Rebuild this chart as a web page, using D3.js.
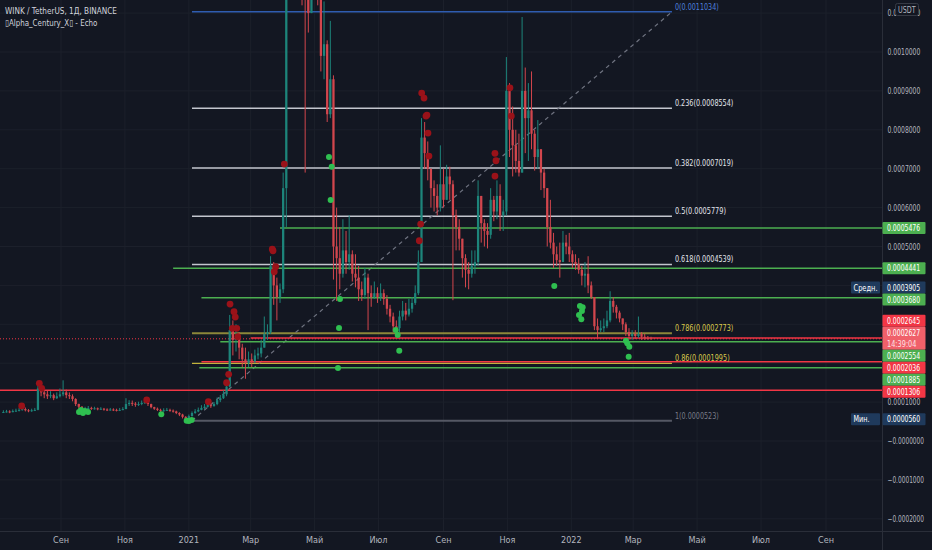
<!DOCTYPE html>
<html>
<head>
<meta charset="utf-8">
<script src="https://cdn.jsdelivr.net/npm/d3@7"></script>
<style>
  html, body { margin: 0; padding: 0; background: #131722; overflow: hidden; }
  svg { display: block; }
  text { font-family: 'Liberation Sans Narrow', 'DejaVu Sans Condensed', 'Arial Narrow', sans-serif; font-stretch: condensed; }
</style>
</head>
<body>
<svg id="chart" width="932" height="550"></svg>
<script>
'use strict'

// all prices are in 1e-7 USDT (2627 -> 0.0002627)
const startDate = new Date(2020, 6, 7)   // first candle
const candleDays = 3
const firstOpen = 730

const closes = [
  745,760,740,770,780,800,820,790,770,790,800,1350,
  1250,1200,1150,1180,1100,1150,1200,1250,1180,1150,1080,950,
  880,820,830,850,830,840,820,830,810,800,810,800,
  790,800,820,950,980,960,930,950,980,1000,950,870,
  830,800,780,790,800,780,760,720,680,620,560,640,
  720,760,800,850,880,920,900,950,1050,1100,1200,1400,
  2850,2600,2700,2400,2100,2000,2100,2050,2200,2250,2400,2750,
  2800,4500,4000,3700,3900,6500,12500,18000,16000,17000,15000,13000,
  12500,11000,13500,13000,11500,9900,10200,8400,9300,5000,4700,4300,
  4900,4600,4800,4300,4200,3900,3750,4200,3800,3700,3800,3700,
  3800,3650,3400,3200,2950,2900,3200,3350,3250,3400,3550,3800,
  4600,7800,7400,7000,6500,6300,6000,6600,6200,6800,6600,5800,
  5500,5200,4700,4400,4300,4500,4600,6300,5600,5400,5300,6200,
  5900,6300,5800,5900,9000,8000,7600,7200,6900,9000,8300,8500,
  7900,7300,7500,6900,6500,5500,5100,4800,4650,4600,5100,5000,
  4800,4600,4550,4400,4250,4300,4000,3700,2950,2850,2900,2950,
  3100,3600,3450,3300,3150,3000,2800,2700,2750,2700,2750,2680,
  2650,2640,2627
]
const highs = [
  790,800,790,810,830,850,900,860,820,830,850,1450,
  1420,1350,1300,1280,1220,1250,1350,1560,1320,1250,1200,1100,
  960,900,880,900,880,880,860,870,850,840,850,840,
  830,850,870,1100,1050,1040,1000,1010,1040,1060,1040,960,
  880,860,830,840,850,830,810,780,740,700,640,680,
  760,820,860,920,950,990,980,1000,1120,1180,1300,1450,
  3240,3100,3000,2800,2500,2400,2300,2250,2350,2400,2600,3200,
  3000,4750,4600,4200,4050,6900,15000,25000,19000,19000,17500,15000,
  14000,13000,15000,14500,13500,12000,11300,10300,10800,9400,6000,5500,
  5700,5400,5800,4900,4800,4500,4100,4450,4300,4000,4100,3950,
  4050,3900,3750,3500,3300,3100,3350,3600,3550,3650,3700,4000,
  4900,8300,8200,7700,7000,6700,6600,7600,7000,7100,7050,6700,
  5950,5700,5000,4800,4600,4900,4900,6700,5900,5700,5600,6500,
  6300,6700,6600,6200,9870,9200,8600,8000,7900,10900,9600,9200,
  9500,8000,8250,7400,7000,6450,6200,5350,5000,5100,5400,5300,
  5350,4900,4800,4700,4500,4600,4750,4100,3700,3150,3100,3150,
  3350,3850,3700,3500,3350,3150,3050,2900,2850,2850,3200,2800,
  2750,2700,2680
]
const lows = [
  720,730,715,740,750,760,780,760,740,750,770,790,
  1150,1100,1080,1100,1050,1080,1120,1150,1100,1080,1020,900,
  830,780,790,800,800,810,790,800,780,770,780,770,
  760,770,790,820,900,900,880,900,920,950,900,840,
  800,770,740,750,770,750,730,690,640,580,523,540,
  630,700,740,790,820,860,850,880,920,1000,1080,1150,
  1380,2200,2300,2100,1900,1600,1900,1900,2000,2100,2150,2500,
  2600,2750,3500,3100,3550,3800,5500,12000,13000,14000,12500,11200,
  6900,10500,11000,11800,11200,9500,9300,8200,8300,4150,3600,3900,
  4200,4300,4400,4100,3950,3600,3600,3650,2850,3450,3650,3550,
  3600,3500,3250,3050,2800,2730,2800,3100,3100,3200,3300,3500,
  3750,4600,7000,6700,6000,5900,5800,5900,6000,6300,6200,3620,
  4900,4900,4200,3950,3900,4200,4300,4500,5100,5000,4950,5200,
  5650,5700,5400,5400,5800,7300,6800,6900,6800,6900,7400,7200,
  7500,6950,7000,6450,6250,5000,4950,4450,4500,4200,4600,4800,
  4600,4450,4400,4300,4000,3950,3800,3650,2850,2650,2800,2800,
  2900,3050,3300,3150,3050,2850,2700,2600,2600,2620,2650,2600,
  2600,2600,2610
]

// Alpha_Century_X signals: [day from startDate, price]
const sellSignals = [
  [18.5,900],[35.3,1482],[37.6,1354],[137.8,1054],[196.6,1010],[214,1498],[216,1714],
  [217.3,3521],[221.1,3323],[222.3,3187],[219.5,2896],[223.7,2896],[224.6,2680],
  [257.6,4934],[258.3,4891],[260.9,4479],[259.5,4351],[269.1,7119],
  [397.9,5148],[399.2,5577],[400.2,8944],[402.4,8815],[404.3,8353],[405.2,8378],
  [406.2,7916],[407.1,7325],[470.1,7394],[471.1,7204],[470.1,6811],[484.4,9080],[485.7,8353]
]
const buySignals = [
  [73.2,745],[75.1,797],[77,720],[78.9,771],[81.8,745],[151.7,686],[175.9,522],[178.1,514],[180.7,540],
  [311.7,7299],[314.3,7050],[313.3,6194],[322.2,3649],[321.3,2904],[320.3,1876],
  [375.4,2853],[377.3,2724],[378.8,2321],[526.7,3984],
  [551.2,3470],[553.8,3436],[553.1,3341],[550.3,3238],[552.5,3128],
  [595.1,2578],[596.4,2511],[598.3,2424],[597.7,2167]
]

// horizontal levels drawn by hand
const levelPrices = [5476, 4441, 3680, 2645, 2554, 2036, 1885, 1306]
const levelSides = ['support','support','support','resist','support','resist','support','resist']
const levelStartDay = [265, 163, 190, 237, 208, 190, 188, -3]

// fib retracement
const fibLevels = [0, 0.236, 0.382, 0.5, 0.618, 0.786, 0.86, 1]
const fibHigh = 11034.45
const fibLow = 523.45
const fibStartDay = 181
const fibEndDay = 639

const lastPrice = 2627
const avgPrice = 3905
const minPrice = 560
const countdown = '14:39:04'

const priceTicks = [-2000, -1000, 0, 1000, 2000, 3000, 4000, 5000, 6000, 7000, 8000, 9000, 10000, 11000]
const monthNames = ['Янв','Фев','Мар','Апр','Май','Июн','Июл','Авг','Сен','Окт','Ноя','Дек']

// squeeze a text to the narrow look of the screenshot
function narrow(sel, perChar){
  sel.attr('lengthAdjust', 'spacingAndGlyphs')
    .attr('textLength', function(){ return this.textContent.length * perChar })
}

function wrapper(){

  let width = 932
  let height = 550
  let plotW = 882
  let plotH = 531

  let svg = d3.select('#chart')

  let x = d3.scaleTime()
    .domain([new Date(2020, 8, 1), new Date(2022, 8, 1)])
    .range([61, 826])
  let y = d3.scaleLinear()
    .domain([0, 10000])
    .range([441, 52])

  const dayX = d => x(new Date(+startDate + d * 864e5))

  svg.append('rect').attr('width', width).attr('height', height).attr('fill', '#131722')

  svg.append('clipPath').attr('id', 'plotclip')
    .append('rect').attr('width', plotW).attr('height', plotH)

  let grid = svg.append('g').attr('clip-path', 'url(#plotclip)')
  let monthTicks = d3.timeMonth.every(2).range(new Date(2020, 7, 1), new Date(2022, 9, 1))

  grid.selectAll('line.vg')
    .data(monthTicks)
    .join('line')
    .attr('class', 'vg')
    .attr('x1', d => x(d)).attr('x2', d => x(d))
    .attr('y1', 0).attr('y2', plotH)
    .attr('stroke', '#1c202b')

  grid.selectAll('line.hg')
    .data(priceTicks)
    .join('line')
    .attr('class', 'hg')
    .attr('x1', 0).attr('x2', plotW)
    .attr('y1', d => y(d)).attr('y2', d => y(d))
    .attr('stroke', '#1c202b')

  let plot = svg.append('g').attr('clip-path', 'url(#plotclip)')

  // levels under the candles
  let levels = levelPrices.map((p, i) => ({ p: p, side: levelSides[i], d0: levelStartDay[i] }))
  const sideColor = { support: '#4caf50', resist: '#f23645' }

  // fib levels
  let fibRange = fibHigh - fibLow
  let fibs = fibLevels.map(l => ({ l: l, p: fibHigh - l * fibRange }))
  const fibStroke = l => l === 0 ? '#2f5cb0' : l === 1 ? '#555864' : l === 0.786 ? '#8c873a' : l === 0.86 ? '#c2b33c' : '#c3c6ce'
  const fibText = l => l === 0 ? '#4d7fd8' : l === 1 ? '#787b86' : (l === 0.786 || l === 0.86) ? '#d9c94c' : '#e1e3ea'

  plot.selectAll('line.fib')
    .data(fibs)
    .join('line')
    .attr('class', 'fib')
    .attr('x1', dayX(fibStartDay)).attr('x2', dayX(fibEndDay))
    .attr('y1', d => y(d.p)).attr('y2', d => y(d.p))
    .attr('stroke', d => fibStroke(d.l))
    .attr('stroke-width', d => (d.l === 0.786 || d.l === 1) ? 2 : 1.4)

  plot.append('line')
    .attr('x1', dayX(fibStartDay)).attr('y1', y(fibLow))
    .attr('x2', dayX(fibEndDay)).attr('y2', y(fibHigh))
    .attr('stroke', '#6f7380')
    .attr('stroke-width', 1.2)
    .attr('stroke-dasharray', '4,4')

  plot.selectAll('line.lvl')
    .data(levels)
    .join('line')
    .attr('class', 'lvl')
    .attr('x1', d => dayX(d.d0)).attr('x2', plotW)
    .attr('y1', d => y(d.p)).attr('y2', d => y(d.p))
    .attr('stroke', d => sideColor[d.side])
    .attr('stroke-width', 1.5)

  // last price dotted line
  plot.append('line')
    .attr('x1', 0).attr('x2', plotW)
    .attr('y1', y(lastPrice)).attr('y2', y(lastPrice))
    .attr('stroke', '#f23645')
    .attr('stroke-width', 1)
    .attr('stroke-dasharray', '1,2')

  // candles
  let candles = closes.map((c, i) => {
    let o = i === 0 ? firstOpen : closes[i - 1]
    return { d: i * candleDays + 1, o: o, c: c, h: Math.max(highs[i], o, c), l: Math.min(lows[i], o, c) }
  })
  let bodyW = (dayX(candleDays) - dayX(0)) * 0.72
  const upC = '#1d857b', downC = '#d2464d'

  let cg = plot.selectAll('g.candle')
    .data(candles)
    .join('g')
    .attr('class', 'candle')
    .attr('fill', d => d.c >= d.o ? upC : downC)
    .attr('stroke', d => d.c >= d.o ? upC : downC)

  cg.append('line')
    .attr('x1', d => dayX(d.d)).attr('x2', d => dayX(d.d))
    .attr('y1', d => y(d.h)).attr('y2', d => y(d.l))
    .attr('stroke-width', 1)

  cg.append('rect')
    .attr('x', d => dayX(d.d) - bodyW / 2)
    .attr('width', bodyW)
    .attr('y', d => y(Math.max(d.o, d.c)))
    .attr('height', d => Math.max(1, Math.abs(y(d.o) - y(d.c))))
    .attr('stroke', 'none')

  // signals
  plot.selectAll('circle.sell')
    .data(sellSignals)
    .join('circle')
    .attr('class', 'sell')
    .attr('cx', d => dayX(d[0])).attr('cy', d => y(d[1]))
    .attr('r', 3.4)
    .attr('fill', '#9a1219')

  plot.selectAll('circle.buy')
    .data(buySignals)
    .join('circle')
    .attr('class', 'buy')
    .attr('cx', d => dayX(d[0])).attr('cy', d => y(d[1]))
    .attr('r', 3)
    .attr('fill', '#2fbf50')

  // fib labels
  const fmt = p => (p / 1e7).toFixed(7)
  plot.selectAll('text.fib')
    .data(fibs)
    .join('text')
    .attr('class', 'fib')
    .attr('x', dayX(fibEndDay) + 3)
    .attr('y', d => y(d.p) - 2)
    .attr('fill', d => fibText(d.l))
    .attr('font-size', 9)
    .text(d => d.l + '(' + fmt(Math.round(d.p)) + ')')
    .call(narrow, 3.65)

  // axes frame
  svg.append('line').attr('x1', plotW + 0.5).attr('x2', plotW + 0.5).attr('y1', 0).attr('y2', height).attr('stroke', '#2a2e39')
  svg.append('line').attr('x1', 0).attr('x2', width).attr('y1', plotH + 0.5).attr('y2', plotH + 0.5).attr('stroke', '#2a2e39')

  // price tags on the axis
  let tags = levels.map(l => ({ y: y(l.p), h: 12, fill: sideColor[l.side], lines: [fmt(l.p)] }))
  tags.push({ y: y(avgPrice), h: 12, fill: '#1f3a5c', lines: [fmt(avgPrice)], side: 'Средн.' })
  tags.push({ y: y(lastPrice), h: 23, fill: '#f0606a', lines: [fmt(lastPrice), countdown] })
  tags.push({ y: y(minPrice), h: 12, fill: '#1f3a5c', lines: [fmt(minPrice)], side: 'Мин.' })

  tags.sort((a, b) => a.y - b.y)
  let groups = tags.map(t => ({ items: [t] }))
  const layout = gr => {
    gr.h = d3.sum(gr.items, t => t.h)
    gr.top = d3.mean(gr.items, t => t.y) - gr.h / 2
  }
  groups.forEach(layout)
  let merged = true
  while (merged) {
    merged = false
    for (let k = 0; k < groups.length - 1; k++) {
      if (groups[k].top + groups[k].h > groups[k + 1].top) {
        groups[k].items = groups[k].items.concat(groups[k + 1].items)
        groups.splice(k + 1, 1)
        layout(groups[k])
        merged = true
        break
      }
    }
  }
  groups.forEach(gr => {
    let t0 = gr.top
    gr.items.forEach(t => { t.top = t0; t0 += t.h })
  })

  // price axis, ticks hidden behind a tag are left out
  let freeTicks = priceTicks.filter(v => {
    let ty = y(v)
    if (ty < 17) return true
    return !tags.some(t => ty > t.top - 1 && ty < t.top + t.h + 1)
  })
  svg.selectAll('text.pt')
    .data(freeTicks)
    .join('text')
    .attr('class', 'pt')
    .attr('x', 887.5)
    .attr('y', d => y(d) + 3.2)
    .attr('fill', '#b2b5be')
    .attr('font-size', 9)
    .text(d => d === 0 ? '\u22120.0000000' : (d < 0 ? '\u2212' : '') + fmt(Math.abs(d)))
    .call(narrow, 3.65)

  // time axis
  svg.selectAll('text.tt')
    .data(monthTicks.filter(d => x(d) > 20 && x(d) < plotW - 10))
    .join('text')
    .attr('class', 'tt')
    .attr('x', d => x(d))
    .attr('y', 543)
    .attr('text-anchor', 'middle')
    .attr('fill', '#b2b5be')
    .attr('font-size', 9)
    .text(d => d.getMonth() === 0 ? d.getFullYear() : monthNames[d.getMonth()])

  let tg = svg.selectAll('g.tag')
    .data(tags)
    .join('g')
    .attr('class', 'tag')

  tg.append('rect')
    .attr('x', plotW + 0.5).attr('y', d => d.top)
    .attr('width', 43).attr('height', d => d.h)
    .attr('rx', 1)
    .attr('fill', d => d.fill)

  tg.each(function(d){
    let g = d3.select(this)
    d.lines.forEach((t, k) => {
      g.append('text')
        .attr('x', 887).attr('y', d.top + 9.2 + k * 11)
        .attr('fill', k === 0 ? '#ffffff' : '#fde3e5')
        .attr('font-size', 9)
        .text(t)
        .call(narrow, 3.68)
    })
    if (d.side) {
      g.append('rect')
        .attr('x', 851).attr('y', d.top)
        .attr('width', 29).attr('height', d.h)
        .attr('rx', 1)
        .attr('fill', d.fill)
      g.append('text')
        .attr('x', 853.5).attr('y', d.top + 9.2)
        .attr('fill', '#ffffff')
        .attr('font-size', 9)
        .text(d.side)
        .call(narrow, 4)
    }
  })

  // currency badge, it sits over the top tick like in the app
  svg.append('rect')
    .attr('x', 895.5).attr('y', 3.5).attr('width', 23).attr('height', 12).attr('rx', 2)
    .attr('fill', '#131722').attr('stroke', '#363a45')
  svg.append('text')
    .attr('x', 898).attr('y', 12.5)
    .attr('fill', '#b2b5be')
    .attr('font-size', 8.5)
    .text('USDT')
    .call(narrow, 4.4)

  // legend
  svg.append('text')
    .attr('x', 5).attr('y', 14)
    .attr('fill', '#d1d4dc')
    .attr('font-size', 9.5)
    .text('WINK / TetherUS, 1Д, BINANCE')
    .call(narrow, 4)
  svg.append('text')
    .attr('x', 5).attr('y', 26)
    .attr('fill', '#d1d4dc')
    .attr('font-size', 9.5)
    .text('\u25AFAlpha_Century_X\u25AF - Echo')
    .call(narrow, 3.85)
}

wrapper()
</script>
</body>
</html>
